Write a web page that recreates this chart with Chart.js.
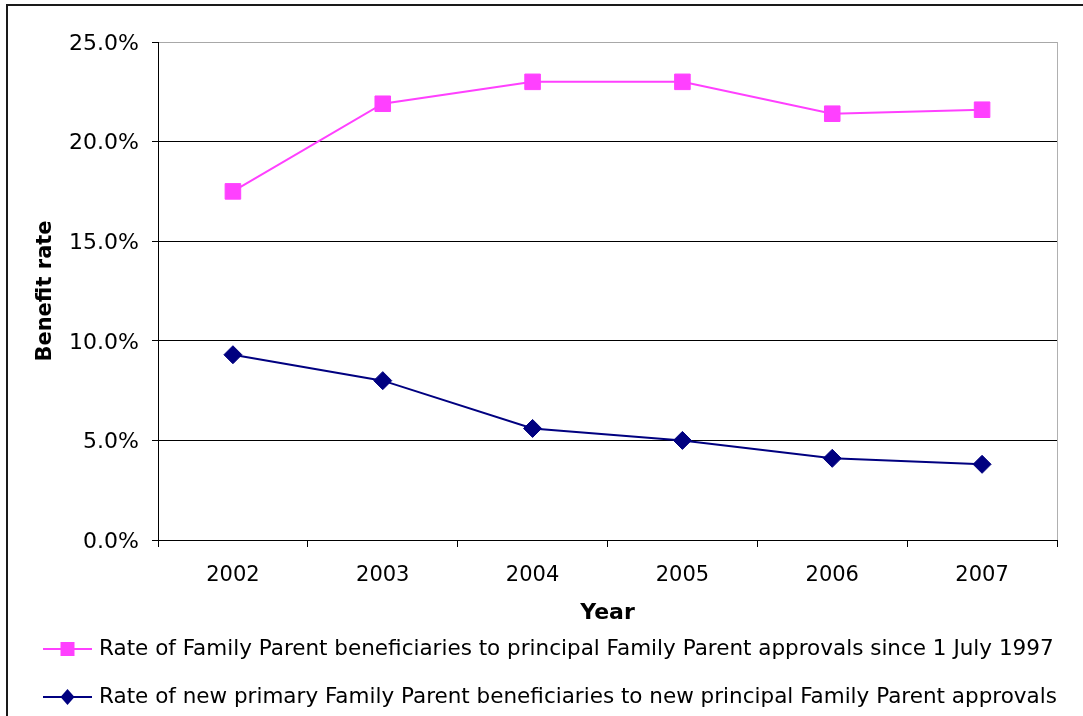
<!DOCTYPE html>
<html>
<head>
<meta charset="utf-8">
<script src="https://cdn.jsdelivr.net/npm/chart.js@4/dist/chart.umd.min.js"></script>
<style>
  html, body { margin: 0; padding: 0; background: #ffffff; }
  canvas { display: block; }
</style>
</head>
<body>
<canvas id="chart" width="1083" height="716"></canvas>
<script>
// Years on the category axis
const years = ['2002', '2003', '2004', '2005', '2006', '2007'];

// Benefit rates, in percent
const ratesSince1997 = [17.5, 21.9, 23.0, 23.0, 21.4, 21.6];
const ratesNewPrimary = [9.3, 8.0, 5.6, 5.0, 4.1, 3.8];

// Series names shown in the legend
const seriesNames = [
  'Rate of Family Parent beneficiaries to principal Family Parent approvals since 1 July 1997',
  'Rate of new primary Family Parent beneficiaries to new principal Family Parent approvals'
];

const PINK = '#ff40ff';
const NAVY = '#000080';
const FONT = "'DejaVu Sans', Verdana, sans-serif";

// Outer frame of the chart object plus the grey right edge of the plot area
const framePlugin = {
  id: 'frame',
  beforeDraw(chart) {
    const ctx = chart.ctx;
    ctx.save();
    ctx.fillStyle = '#ffffff';
    ctx.fillRect(0, 0, chart.width, chart.height);
    ctx.strokeStyle = '#1a1a1a';
    ctx.lineWidth = 2;
    ctx.strokeRect(7, 5, chart.width + 20, chart.height + 20);
    ctx.restore();
  },
  beforeDatasetsDraw(chart) {
    const {ctx, chartArea} = chart;
    ctx.save();
    ctx.strokeStyle = '#b0b0b0';
    ctx.lineWidth = 1;
    ctx.beginPath();
    ctx.moveTo(Math.round(chartArea.right) + 0.5, chartArea.top);
    ctx.lineTo(Math.round(chartArea.right) + 0.5, chartArea.bottom);
    ctx.stroke();
    ctx.restore();
  }
};

// Legend drawn as line + marker samples, one series per row
const lineLegendPlugin = {
  id: 'lineLegend',
  afterDraw(chart) {
    const ctx = chart.ctx;
    const rows = [chart.height - 67, chart.height - 19];
    ctx.save();
    ctx.font = '21.5px ' + FONT;
    ctx.textBaseline = 'middle';
    ctx.textAlign = 'left';
    chart.data.datasets.forEach((ds, i) => {
      const y = rows[i];
      const x0 = 43, x1 = 92, cx = (x0 + x1) / 2;
      ctx.strokeStyle = ds.borderColor;
      ctx.lineWidth = 2;
      ctx.beginPath();
      ctx.moveTo(x0, y);
      ctx.lineTo(x1, y);
      ctx.stroke();
      ctx.fillStyle = ds.pointBackgroundColor;
      ctx.beginPath();
      if (ds.pointStyle === 'rect') {
        ctx.rect(cx - 7, y - 7, 14, 14);
      } else {
        ctx.moveTo(cx, y - 8);
        ctx.lineTo(cx + 7, y);
        ctx.lineTo(cx, y + 8);
        ctx.lineTo(cx - 7, y);
        ctx.closePath();
      }
      ctx.fill();
      ctx.fillStyle = '#000000';
      ctx.fillText(ds.label, 99, y);
    });
    ctx.restore();
  }
};

new Chart(document.getElementById('chart'), {
  type: 'line',
  data: {
    labels: years,
    datasets: [
      {
        label: seriesNames[0],
        data: ratesSince1997,
        borderColor: PINK,
        backgroundColor: PINK,
        pointBackgroundColor: PINK,
        pointBorderColor: PINK,
        borderWidth: 2,
        pointStyle: 'rect',
        pointRadius: 11,
        pointBorderWidth: 1,
        tension: 0
      },
      {
        label: seriesNames[1],
        data: ratesNewPrimary,
        borderColor: NAVY,
        backgroundColor: NAVY,
        pointBackgroundColor: NAVY,
        pointBorderColor: NAVY,
        borderWidth: 2,
        pointStyle: 'rectRot',
        pointRadius: 9,
        pointBorderWidth: 1,
        tension: 0
      }
    ]
  },
  options: {
    responsive: false,
    animation: false,
    devicePixelRatio: 1,
    layout: { padding: { left: 0, right: 26, top: 42, bottom: 86 } },
    plugins: {
      legend: { display: false },
      tooltip: { enabled: false }
    },
    scales: {
      x: {
        offset: true,
        afterFit(scale) { scale.height = 90; },
        grid: {
          offset: true,
          drawOnChartArea: false,
          drawTicks: true,
          tickLength: 7,
          tickColor: '#000000'
        },
        border: { display: true, color: '#000000', width: 1 },
        ticks: {
          color: '#000000',
          font: { family: FONT, size: 21 },
          padding: 16
        },
        title: {
          display: true,
          text: 'Year',
          color: '#000000',
          font: { family: FONT, size: 22, weight: 'bold' },
          padding: { top: 0, bottom: 4 }
        }
      },
      y: {
        min: 0,
        max: 25,
        afterFit(scale) { scale.width = 158; },
        grid: {
          color: (c) => (c.tick && c.tick.value === 25 ? '#a8a8a8' : '#000000'),
          lineWidth: 1,
          drawTicks: true,
          tickLength: 6,
          tickColor: '#000000'
        },
        border: { display: true, color: '#000000', width: 1 },
        ticks: {
          stepSize: 5,
          color: '#000000',
          font: { family: FONT, size: 22 },
          padding: 13,
          labelOffset: 2,
          callback: (v) => v.toFixed(1) + '%'
        },
        title: {
          display: true,
          text: 'Benefit rate',
          color: '#000000',
          font: { family: FONT, size: 21, weight: 'bold' },
          padding: { top: 33, bottom: 0 }
        }
      }
    }
  },
  plugins: [framePlugin, lineLegendPlugin]
});
</script>
</body>
</html>
